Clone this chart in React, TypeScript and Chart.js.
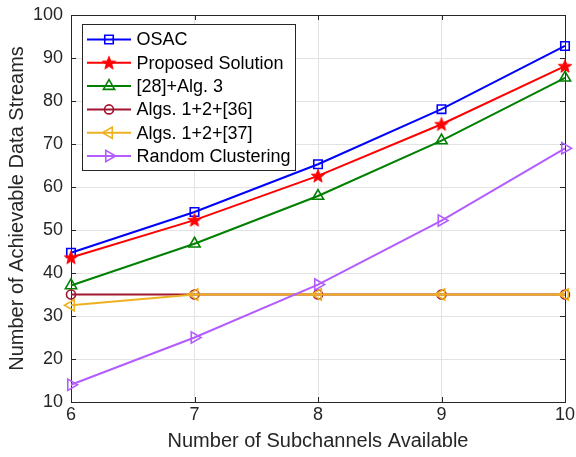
import { useEffect, useRef } from 'react';
import { Chart, registerables } from 'chart.js';
import { drawPoint } from 'chart.js/helpers';

Chart.register(...registerables);

const subchannels = [6, 7, 8, 9, 10];
const osac = [44.7, 54.2, 65.3, 78.1, 92.8];
const proposed = [43.6, 52.3, 62.6, 74.6, 88.1];
const ref28 = [37.1, 46.8, 57.9, 70.8, 85.4];
const algs36 = [35, 35, 35, 35, 35];
const algs37 = [32.5, 35, 35, 35, 35];
const randomClustering = [14.0, 25.0, 37.3, 52.2, 69.0];
const xTickValues = [6, 7, 8, 9, 10];
const yTickValues = [10, 20, 30, 40, 50, 60, 70, 80, 90, 100];
const seriesNames = [
  'OSAC',
  'Proposed Solution',
  '[28]+Alg. 3',
  'Algs. 1+2+[36]',
  'Algs. 1+2+[37]',
  'Random Clustering',
];

const FONT = "'Liberation Sans', Arial, Helvetica, sans-serif";
const TEXT = '#262626';

function makeStar(color: string, outer: number, inner: number): HTMLCanvasElement {
  const size = Math.ceil(outer * 2 + 2);
  const c = document.createElement('canvas');
  c.width = size;
  c.height = size;
  const ctx = c.getContext('2d')!;
  const cx = size / 2;
  const cy = size / 2 + 0.5;
  ctx.beginPath();
  for (let i = 0; i < 10; i++) {
    const r = i % 2 === 0 ? outer : inner;
    const a = -Math.PI / 2 + (i * Math.PI) / 5;
    const px = cx + r * Math.cos(a);
    const py = cy + r * Math.sin(a);
    if (i === 0) ctx.moveTo(px, py);
    else ctx.lineTo(px, py);
  }
  ctx.closePath();
  ctx.fillStyle = color;
  ctx.fill();
  ctx.strokeStyle = color;
  ctx.lineWidth = 1;
  ctx.stroke();
  return c;
}

export default function App() {
  const ref = useRef<HTMLCanvasElement | null>(null);

  useEffect(() => {
    const canvas = ref.current;
    if (!canvas) return;
    const star = makeStar('#FF0000', 7, 2.9);

    const seriesValues = [osac, proposed, ref28, algs36, algs37, randomClustering];
    const colors = ['#0000FF', '#FF0000', '#008000', '#A2142F', '#EDB120', '#B35CFF'];
    const styles: any[] = ['rect', star, 'triangle', 'circle', 'triangle', 'triangle'];
    const rotations = [0, 0, 0, 0, -90, 90];
    const radii = [6, 7, 6.5, 4.5, 6.5, 6.5];

    const datasets = seriesNames.map((name, i) => ({
      label: name,
      data: subchannels.map((x, j) => ({ x, y: seriesValues[i][j] })),
      borderColor: colors[i],
      backgroundColor: colors[i],
      borderWidth: 2,
      pointStyle: styles[i],
      pointRotation: rotations[i],
      pointRadius: radii[i],
      pointBorderWidth: 1.6,
      pointBorderColor: colors[i],
      pointBackgroundColor: 'rgba(0,0,0,0)',
      fill: false,
      tension: 0,
      clip: false as any,
      order: seriesNames.length - i,
    }));

    const boxPlugin = {
      id: 'boxPlugin',
      beforeDatasetsDraw(chart: any) {
        const { ctx, chartArea: a, scales } = chart;
        ctx.save();
        ctx.strokeStyle = TEXT;
        ctx.lineWidth = 1;
        const tl = 5;
        ctx.beginPath();
        xTickValues.forEach((v) => {
          const x = Math.round(scales.x.getPixelForValue(v)) + 0.5;
          ctx.moveTo(x, a.bottom);
          ctx.lineTo(x, a.bottom - tl);
          ctx.moveTo(x, a.top);
          ctx.lineTo(x, a.top + tl);
        });
        yTickValues.forEach((v) => {
          const y = Math.round(scales.y.getPixelForValue(v)) + 0.5;
          ctx.moveTo(a.left, y);
          ctx.lineTo(a.left + tl, y);
          ctx.moveTo(a.right, y);
          ctx.lineTo(a.right - tl, y);
        });
        ctx.stroke();
        ctx.strokeRect(Math.round(a.left) + 0.5, Math.round(a.top) + 0.5, Math.round(a.right - a.left), Math.round(a.bottom - a.top));
        ctx.restore();
      },
      afterDraw(chart: any) {
        const { ctx } = chart;
        ctx.save();
        const bx = 82, by = 24, bw = 213, bh = 146;
        ctx.fillStyle = '#FFFFFF';
        ctx.fillRect(bx, by, bw, bh);
        ctx.strokeStyle = TEXT;
        ctx.lineWidth = 1;
        ctx.strokeRect(bx + 0.5, by + 0.5, bw, bh);
        ctx.font = `18px ${FONT}`;
        ctx.textBaseline = 'middle';
        ctx.textAlign = 'left';
        seriesNames.forEach((name, i) => {
          const y = 39.5 + i * 23.3;
          ctx.strokeStyle = colors[i];
          ctx.lineWidth = 2;
          ctx.beginPath();
          ctx.moveTo(87, y);
          ctx.lineTo(131, y);
          ctx.stroke();
          ctx.lineWidth = 1.6;
          ctx.fillStyle = 'rgba(0,0,0,0)';
          drawPoint(ctx, { pointStyle: styles[i], rotation: rotations[i], radius: radii[i], borderWidth: 1.6 } as any, 109, y);
          ctx.fillStyle = '#000000';
          ctx.fillText(name, 136.5, y + 1);
        });
        ctx.restore();
      },
    };

    const chart = new Chart(canvas, {
      type: 'line',
      data: { datasets },
      options: {
        animation: false,
        responsive: false,
        maintainAspectRatio: false,
        devicePixelRatio: 1,
        layout: { padding: { left: 0, right: 11, top: 15, bottom: 0 } },
        plugins: { legend: { display: false }, tooltip: { enabled: false } },
        scales: {
          x: {
            type: 'linear',
            min: 6,
            max: 10,
            afterBuildTicks: (s: any) => {
              s.ticks = xTickValues.map((v) => ({ value: v }));
            },
            afterFit: (s: any) => {
              s.height = 55;
              s.paddingLeft = 0;
              s.paddingRight = 0;
            },
            ticks: {
              font: { family: FONT, size: 18 },
              color: TEXT,
              padding: 2,
              maxRotation: 0,
              autoSkip: false,
            },
            grid: { color: '#E3E3E3', drawTicks: false, lineWidth: 1 },
            border: { display: false },
            title: {
              display: true,
              text: 'Number of Subchannels Available',
              font: { family: FONT, size: 20 },
              color: TEXT,
              padding: { top: 0, bottom: 4 },
            },
          },
          y: {
            type: 'linear',
            min: 10,
            max: 100,
            afterBuildTicks: (s: any) => {
              s.ticks = yTickValues.map((v) => ({ value: v }));
            },
            afterFit: (s: any) => {
              s.width = 71;
              s.paddingTop = 0;
              s.paddingBottom = 0;
            },
            ticks: {
              font: { family: FONT, size: 18 },
              color: TEXT,
              padding: 8,
              autoSkip: false,
            },
            grid: { color: '#E3E3E3', drawTicks: false, lineWidth: 1 },
            border: { display: false },
            title: {
              display: true,
              text: 'Number of Achievable Data Streams',
              font: { family: FONT, size: 20 },
              color: TEXT,
              padding: { top: 5, bottom: 0 },
            },
          },
        },
      },
      plugins: [boxPlugin],
    });

    return () => chart.destroy();
  }, []);

  return (
    <div style={{ position: 'absolute', left: 0, top: 0, width: 576, height: 457, background: '#fff' }}>
      <canvas ref={ref} width={576} height={457} style={{ width: 576, height: 457, display: 'block' }} />
    </div>
  );
}
